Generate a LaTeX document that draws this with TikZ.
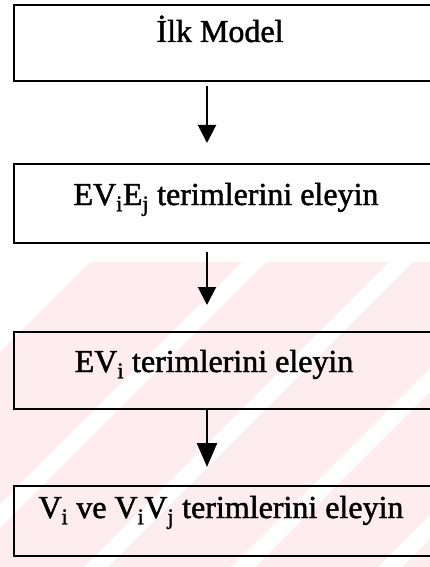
\documentclass[tikz,border=0pt]{standalone}
\usepackage{fontspec}
\setmainfont{Liberation Serif}
\newfontfamily\scanfont[FakeBold=1.5]{Liberation Serif}
\usetikzlibrary{arrows.meta}
\definecolor{wmpink}{RGB}{253,236,240}
\tikzset{
  boxshape/.style={draw=black, line width=2pt, fill=none, inner sep=0pt, anchor=north west, minimum width=425pt},
  label32/.style={anchor=base, inner sep=0pt, font=\scanfont\fontsize{32}{38}\selectfont},
  arrsmall/.style={line width=2pt, -{Triangle[length=18pt,width=18pt]}},
  arrbig/.style={line width=2.4pt, -{Triangle[length=24pt,width=20pt]}},
  stripe/.style={fill=white, draw=none}
}
\begin{document}
\begin{tikzpicture}[x=1pt,y=-1pt]
\useasboundingbox (0,0) rectangle (430,567);
\clip (0,0) rectangle (430,567);
\fill[white] (0,0) rectangle (430,567);
% faint watermark background
\begin{scope}
  \clip (90,262) -- (430,262) -- (430,567) -- (0,567) -- (0,352) -- cycle;
  \fill[wmpink] (0,262) rectangle (430,567);
  \foreach \c in {504,651,798,945} {
    \fill[stripe] (\c,0) -- ({\c+24},0) -- ({\c+24-700},700) -- ({\c-700},700) -- cycle;
  }
\end{scope}
% boxes
\node[boxshape, minimum height=76pt] (b1) at (13,4) {};
\node[boxshape, minimum height=79pt] (b2) at (13,163) {};
\node[boxshape, minimum height=77pt] (b3) at (13,331) {};
\node[boxshape, minimum height=70pt] (b4) at (13,485) {};
% texts
\node[label32] (t1) at (220,42) {İlk Model};
\node[label32] (t2) at (226,205) {EV\textsubscript{i}E\textsubscript{j} terimlerini eleyin};
\node[label32] (t3) at (214,372) {EV\textsubscript{i} terimlerini eleyin};
\node[label32] (t4) at (221,518) {V\textsubscript{i} ve V\textsubscript{i}V\textsubscript{j} terimlerini eleyin};
% arrow coordinates
\coordinate (a1s) at (207,86);
\coordinate (a1e) at (207,143);
\coordinate (a2s) at (207,252);
\coordinate (a2e) at (207,305);
\coordinate (a3s) at (207,408);
\coordinate (a3e) at (207,467);
\draw[arrsmall] (a1s) -- (a1e);
\draw[arrsmall] (a2s) -- (a2e);
\draw[arrbig] (a3s) -- (a3e);
\end{tikzpicture}
\end{document}
